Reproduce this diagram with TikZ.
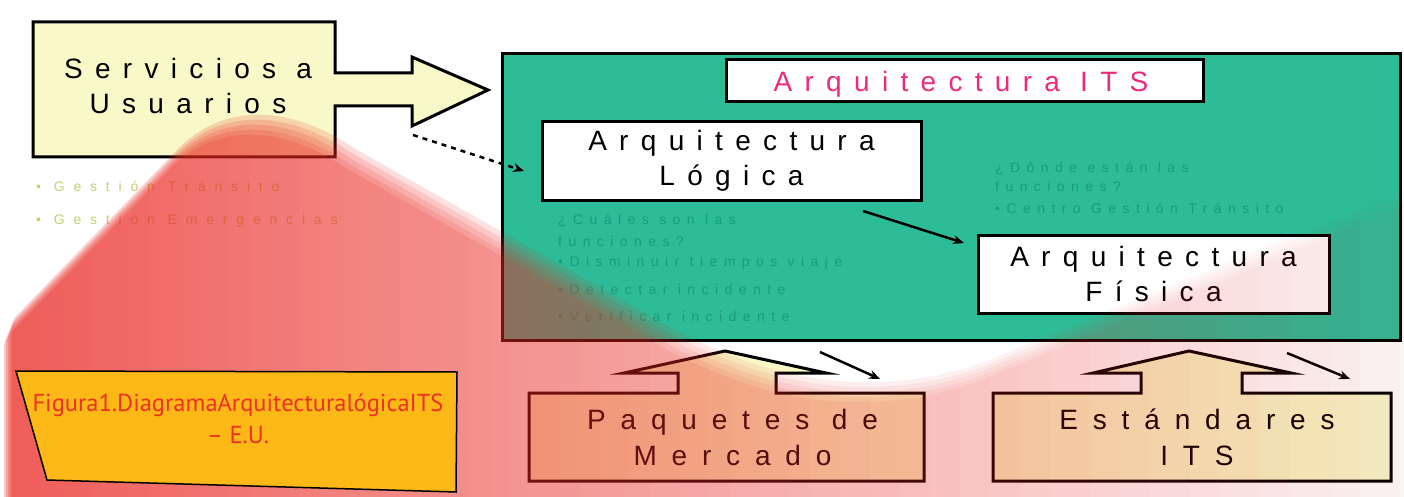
\documentclass[tikz,border=0pt]{standalone}
\usepackage{fontspec}
\setmainfont{Liberation Sans}
\newfontfamily\pixfont[LetterSpace=44]{Liberation Sans}
\newfontfamily\pixwide[LetterSpace=53]{Liberation Sans}
\newfontfamily\smallpix[LetterSpace=46]{Liberation Sans}
\newfontfamily\bulpix[LetterSpace=63]{Liberation Sans}
\newfontfamily\capfont{PT Sans}
\usetikzlibrary{arrows.meta}
\definecolor{paleyellow}{HTML}{F8F8C8}
\definecolor{itsgreen}{HTML}{2CBC98}
\definecolor{itspink}{HTML}{EE2A7B}
\definecolor{faintgreen}{HTML}{199C7B}
\definecolor{bulyellow}{HTML}{C8CE70}
\definecolor{ovred}{HTML}{EC2822}
\definecolor{figorange}{HTML}{FBB817}
\definecolor{figred}{HTML}{EE3124}
\begin{document}
\begin{tikzpicture}[x=1pt,y=-1pt,
  bigtext/.style={font=\pixfont\fontsize{28}{35}\selectfont, align=center, inner sep=0pt},
  widetext/.style={font=\pixwide\fontsize{28}{36}\selectfont, align=center, inner sep=0pt},
  whitebox/.style={draw=black, line width=3pt, fill=white, inner sep=0pt},
  boxline/.style={draw=black, line width=3pt, line join=miter},
  fainttxt/.style={font=\smallpix\fontsize{14}{16}\selectfont, text=faintgreen, inner sep=0pt, anchor=base west},
  bultxt/.style={font=\bulpix\fontsize{14}{16}\selectfont, text=bulyellow, inner sep=0pt, anchor=base west},
  connector/.style={line width=2.5pt, -{Stealth[length=11pt,width=9pt]}}
]
\useasboundingbox (0,0) rectangle (1404,497);
\fill[white] (0,0) rectangle (1404,497);

% main container
\node[draw=black, line width=3pt, fill=itsgreen, minimum width=898pt, minimum height=286pt, inner sep=0pt] (its) at (951,197) {};
\node[whitebox, minimum width=477pt, minimum height=42pt] (titlebox) at (964.5,81) {};
\node[font=\pixfont\fontsize{28}{35}\selectfont, text=itspink, inner sep=0pt, anchor=base] (title) at (961,92) {Arquitectura ITS};
\node[whitebox, bigtext, minimum width=379pt, minimum height=78pt] (logica) at (731.5,161) {Arquitectura\\Lógica};
\node[whitebox, bigtext, minimum width=351pt, minimum height=78pt] (fisica) at (1153.5,274) {Arquitectura\\Física};

% faint texts
\node[fainttxt] (q1a) at (558,224) {¿Cuáles son las};
\node[fainttxt] (q1b) at (558,246) {funciones?};
\node[fainttxt] (q1c) at (558,266) {•Disminuir tiempos viaje};
\node[fainttxt] (q1d) at (558,294) {•Detectar incidente};
\node[fainttxt] (q1e) at (558,321) {•Verificar incidente};
\node[fainttxt] (q2a) at (995,173) {¿Dónde están las};
\node[fainttxt] (q2b) at (995,192) {funciones?};
\node[fainttxt] (q2c) at (995,213) {•Centro Gestión Tránsito};

% Servicios a Usuarios
\draw[boxline, fill=paleyellow] (33,22) -- (335,22) -- (335,73) -- (412,73) -- (412,57) -- (488,90) -- (412,126) -- (412,106) -- (335,106) -- (335,157) -- (33,157) -- cycle;
\node[bigtext] (serv) at (188,85.5) {Servicios a\\Usuarios};
\node[bultxt] (b1) at (36,192) {• Gestión Tránsito};
\node[bultxt] (b2) at (36,224) {• Gestión Emergencias};

% bottom boxes
\draw[boxline, fill=paleyellow] (529,393) -- (678,393) -- (678,373) -- (624,373) -- (725,351) -- (826,373) -- (776,373) -- (776,393) -- (924,393) -- (924,481) -- (529,481) -- cycle;
\node[widetext] (paq) at (732.5,437) {Paquetes de\\Mercado};
\draw[boxline, fill=paleyellow] (993,393) -- (1141,393) -- (1141,373) -- (1093,373) -- (1189,351) -- (1291,373) -- (1242,373) -- (1242,393) -- (1391,393) -- (1391,481) -- (993,481) -- cycle;
\node[widetext] (est) at (1197,437) {Estándares\\ITS};

% connectors
\coordinate (d1s) at (413,135);
\coordinate (d1e) at (524,171);
\draw[connector, dash pattern=on 5pt off 5pt] (d1s) -- (d1e);
\coordinate (lf1) at (863,211);
\coordinate (lf2) at (964,243);
\draw[connector] (lf1) -- (lf2);
\coordinate (p1) at (820,352);
\coordinate (p2) at (880,379);
\draw[connector] (p1) -- (p2);
\coordinate (e1) at (1287,353);
\coordinate (e2) at (1350,379);
\draw[connector] (e1) -- (e2);

% translucent red overlay with soft edge
\foreach \d in {-10,-5,0,5,10} {
  \begin{scope}
    \clip[shift={(-0.4*\d,\d)}] (8,520) -- (8,342) .. controls (8,330) .. (20,318) -- (173,160) .. controls (215,116) and (280,110) .. (353,160) -- (640,322) .. controls (760,395) and (870,410) .. (980,372) -- (1404,198) -- (1440,198) -- (1440,520) -- cycle;
    \foreach \i in {0,...,143} {
      \pgfmathsetmacro\al{1-(1-0.75*(1-(\i*10+5)/1500))^(1/5)}
      \fill[ovred, fill opacity=\al] (\i*10,-20) rectangle (\i*10+10,520);
    }
  \end{scope}
}

% caption box
\draw[fill=figorange, draw=black, line width=1.5pt] (16,371) -- (457,372) -- (456,492) -- (47,480) -- cycle;
\node[font=\capfont\fontsize{24.5}{32}\selectfont, text=figred, align=center, inner sep=0pt] (caption) at (238,419) {Figura1.DiagramaArquitecturalógicaITS\\– E.U.};
\end{tikzpicture}
\end{document}
